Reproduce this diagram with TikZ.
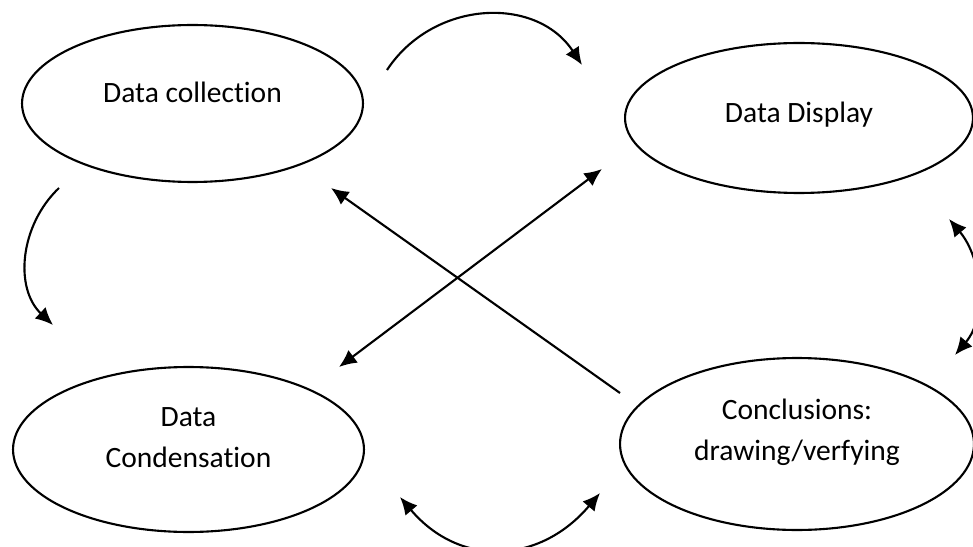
\documentclass[tikz,border=0pt]{standalone}
\usepackage{fontspec}
\setmainfont[Ligatures=NoCommon]{Carlito}
\usetikzlibrary{shapes.geometric,arrows.meta}
\begin{document}
\begin{tikzpicture}[x=0.02cm,y=-0.02cm,
        oval/.style={ellipse,draw,line width=1.2pt,inner sep=0pt},
        txt/.style={font=\fontsize{16.8}{23.3}\selectfont,align=center},
        arr/.style={line width=1.2pt,-{Latex[length=10pt,width=9pt]}},
        arrs/.style={line width=1.2pt,{Latex[length=10pt,width=9pt]}-{Latex[length=10pt,width=9pt]}}]
        \useasboundingbox(0,0)rectangle(973,547);
        % the four stages
        \node[oval,minimum width=6.82cm,minimum height=3.14cm,label={[txt,yshift=0.23cm]center:Data collection}](coll)at(192.5,103.5){};
        \node[oval,minimum width=6.96cm,minimum height=3.0cm,label={[txt,yshift=0.07cm]center:Data Display}](disp)at(799,118){};
        \node[oval,minimum width=7.02cm,minimum height=3.3cm,label={[txt,yshift=0.24cm]center:Data\\Condensation}](cond)at(188.5,449.5){};
        \node[oval,minimum width=7.08cm,minimum height=3.44cm,label={[txt,yshift=0.24cm]center:Conclusions:\\drawing/verfying}](concl)at(797,444){};
        % free ends of the connectors
        \coordinate(t1)at(387,70);   \coordinate(t2)at(582,65);
        \coordinate(l1)at(59,188);   \coordinate(l2)at(53,325);
        \coordinate(r1)at(949,219);  \coordinate(r2)at(955,355);
        \coordinate(b1)at(400,497);  \coordinate(b2)at(600,493);
        \coordinate(x1)at(620,393);  \coordinate(x2)at(331,188);
        \coordinate(y1)at(339,367);  \coordinate(y2)at(602,169);
        % cycle arrows
        \draw[arr](t1)..controls(433,0)and(536,-5)..(t2);
        \draw[arr](l1)..controls(20,225)and(14,288)..(l2);
        \draw[arrs](r1)..controls(982,258)and(988,316)..(r2);
        \draw[arrs](b1)..controls(460,568)and(540,564)..(b2);
        % crossing arrows
        \draw[arr](x1)--(x2);
        \draw[arrs](y1)--(y2);
    \end{tikzpicture}
\end{document}
